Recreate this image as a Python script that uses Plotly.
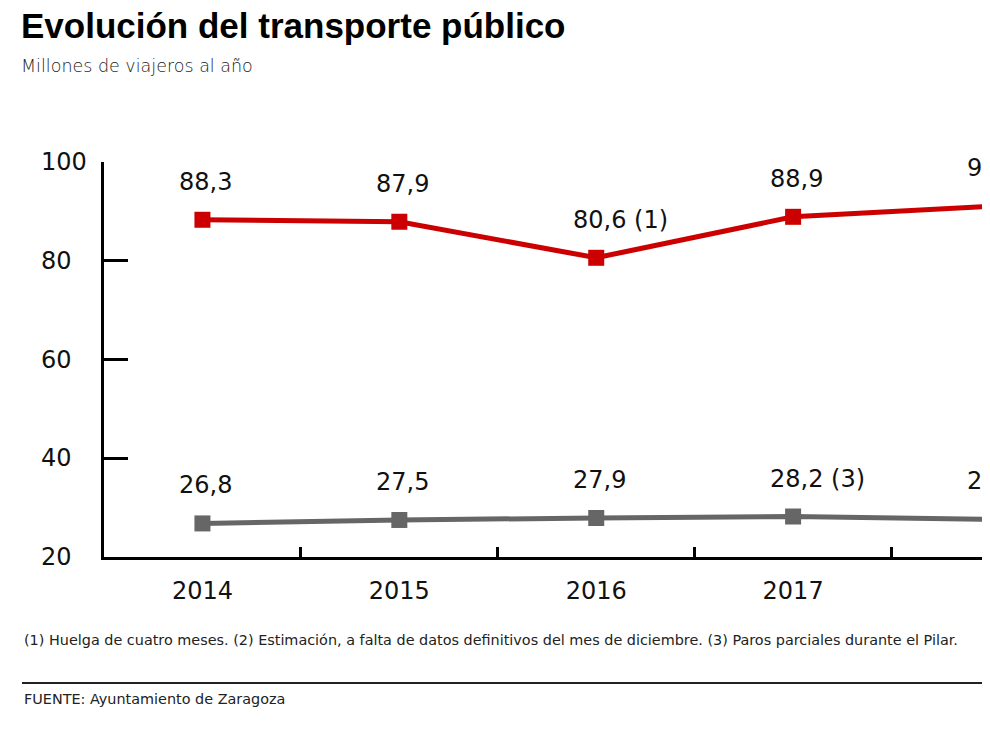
import plotly.graph_objects as go

# datos
years = [2014, 2015, 2016, 2017, 2018]
bus = [88.3, 87.9, 80.6, 88.9, 91.0]
bus_labels = ["88,3", "87,9", "80,6 (1)", "88,9", "91,0 (2)"]
tranvia = [26.8, 27.5, 27.9, 28.2, 27.6]
tranvia_labels = ["26,8", "27,5", "27,9", "28,2 (3)", "27,6"]
y_ticks = [20, 40, 60, 80, 100]
x_bounds = [2014.5, 2015.5, 2016.5, 2017.5]

RED = "#cc0000"
GREY = "#666666"
FONT = "DejaVu Sans"

# la página tiene 8px de margen: todo se mide en pixeles de la ventana
OFF = 8
W, H = 990 - OFF, 742 - 2 * OFF
L, R, T, B = 104, 990, 162, 557   # zona del gráfico (coordenadas de ventana)


def px_x(p):
    return (p - L) / (R - L)


def px_y(p):
    return (B - p) / (B - T)


fig = go.Figure()
for vals, color in [(bus, RED), (tranvia, GREY)]:
    fig.add_trace(go.Scatter(
        x=years, y=vals, mode="lines+markers",
        line=dict(color=color, width=5),
        marker=dict(symbol="square", size=16, color=color),
        cliponaxis=False, hoverinfo="skip"
    ))

ann = []
# etiquetas de valores
for vals, labels in [(bus, bus_labels), (tranvia, tranvia_labels)]:
    for x, v, t in zip(years, vals, labels):
        ann.append(dict(x=x, y=v, text=t, showarrow=False, xanchor="left",
                        yanchor="middle", xshift=-25, yshift=38,
                        font=dict(family=FONT, size=24, color="#111")))

# etiquetas del eje y (alineadas a la izquierda)
for v in y_ticks:
    ann.append(dict(x=px_x(39), xref="paper", y=v, yref="y", text=str(v),
                    showarrow=False, xanchor="left", yanchor="middle",
                    font=dict(family=FONT, size=24, color="#111")))

# textos
ann += [
    dict(x=px_x(19), y=px_y(66), text="Millones de viajeros al año",
         font=dict(family=FONT, size=17.5, color="#222", weight=200)),
    dict(x=px_x(22), y=px_y(640),
         text="(1) Huelga de cuatro meses. (2) Estimación, a falta de datos definitivos del mes de diciembre. (3) Paros parciales durante el Pilar.",
         font=dict(family=FONT, size=14.4, color="#222")),
    dict(x=px_x(22), y=px_y(699), text="FUENTE: Ayuntamiento de Zaragoza",
         font=dict(family=FONT, size=14.4, color="#222")),
]
for a in ann[-3:]:
    a.update(xref="paper", yref="paper", showarrow=False, xanchor="left", yanchor="middle")

fig.update_layout(
    width=W, height=H,
    margin=dict(l=L - OFF, r=W - (R - OFF), t=T - OFF, b=H - (B - OFF)),
    plot_bgcolor="white", paper_bgcolor="white",
    showlegend=False,
    title=dict(text="<b>Evolución del transporte público</b>",
               xref="container", yref="container",
               x=(21 - OFF) / W, xanchor="left",
               y=1 - (26 - OFF) / H, yanchor="middle",
               font=dict(family="Liberation Sans Narrow, Arial Narrow, sans-serif", size=35, color="#000")),
    annotations=ann,
    shapes=[dict(type="line", xref="paper", yref="paper",
                 x0=px_x(22), x1=px_x(1000), y0=px_y(683), y1=px_y(683),
                 line=dict(color="#222", width=2))],
    xaxis=dict(
        range=[2013.5, 2018.0],
        tickmode="array", tickvals=years, ticktext=[str(y) for y in years],
        ticks="", showgrid=False, zeroline=False,
        showline=True, linecolor="black", linewidth=3,
        tickfont=dict(family=FONT, size=24, color="#111"),
        ticklabelstandoff=10,
        minor=dict(tickmode="array", tickvals=x_bounds, ticks="inside",
                   ticklen=10, tickwidth=3, tickcolor="black", showgrid=False),
    ),
    yaxis=dict(
        range=[20, 100], tickmode="array", tickvals=y_ticks,
        showticklabels=False, ticks="inside", ticklen=24, tickwidth=3,
        tickcolor="black", showgrid=False, zeroline=False,
        showline=True, linecolor="black", linewidth=3,
    ),
)

fig.write_html("out.html")
